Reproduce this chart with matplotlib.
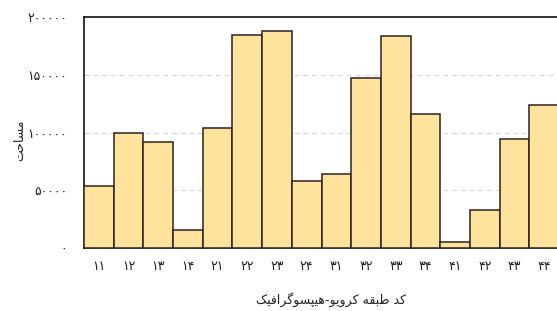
import matplotlib
matplotlib.use("Agg")
import matplotlib.pyplot as plt

categories = ["۱۱", "۱۲", "۱۳", "۱۴", "۲۱", "۲۲", "۲۳", "۲۴",
              "۳۱", "۳۲", "۳۳", "۳۴", "۴۱", "۴۲", "۴۳", "۴۴"]
areas = [54000, 99500, 92000, 15500, 103800, 184000, 187800, 58000,
         63800, 146800, 183700, 115700, 5000, 32600, 94400, 123800]
ytick_values = [0, 50000, 100000, 150000, 200000]
ytick_labels = ["۰", "۵۰۰۰۰", "۱۰۰۰۰۰", "۱۵۰۰۰۰", "۲۰۰۰۰۰"]
xlabel_text = "کد طبقه کرویو-هیپسوگرافیک"
ylabel_text = "مساحت"

# minimal Arabic/Persian shaping (presentation forms) + RTL ordering
FORMS = {
    "ک": ("\uFB8E", "\uFB8F", "\uFB90", "\uFB91"),
    "گ": ("\uFB92", "\uFB93", "\uFB94", "\uFB95"),
    "پ": ("\uFB56", "\uFB57", "\uFB58", "\uFB59"),
    "ی": ("\uFBFC", "\uFBFD", "\uFBFE", "\uFBFF"),
    "ط": ("\uFEC1", "\uFEC2", "\uFEC3", "\uFEC4"),
    "ب": ("\uFE8F", "\uFE90", "\uFE91", "\uFE92"),
    "ق": ("\uFED5", "\uFED6", "\uFED7", "\uFED8"),
    "ه": ("\uFEE9", "\uFEEA", "\uFEEB", "\uFEEC"),
    "س": ("\uFEB1", "\uFEB2", "\uFEB3", "\uFEB4"),
    "ف": ("\uFED1", "\uFED2", "\uFED3", "\uFED4"),
    "م": ("\uFEE1", "\uFEE2", "\uFEE3", "\uFEE4"),
    "ح": ("\uFEA1", "\uFEA2", "\uFEA3", "\uFEA4"),
    "ت": ("\uFE95", "\uFE96", "\uFE97", "\uFE98"),
    "د": ("\uFEA9", "\uFEAA", None, None),
    "ر": ("\uFEAD", "\uFEAE", None, None),
    "و": ("\uFEED", "\uFEEE", None, None),
    "ا": ("\uFE8D", "\uFE8E", None, None),
}


def shape(text):
    out = []
    n = len(text)
    for i, ch in enumerate(text):
        if ch not in FORMS:
            out.append(ch)
            continue
        f = FORMS[ch]
        prev = text[i - 1] if i > 0 else None
        nxt = text[i + 1] if i + 1 < n else None
        jp = prev in FORMS and FORMS[prev][2] is not None
        jn = f[2] is not None and nxt in FORMS
        if jp and jn:
            out.append(f[3])
        elif jp:
            out.append(f[1])
        elif jn:
            out.append(f[2])
        else:
            out.append(f[0])
    return "".join(out)[::-1]


plt.rcParams["font.family"] = ["DejaVu Sans"]

fig = plt.figure(figsize=(5.57, 3.11), dpi=100)
ax = fig.add_axes([84 / 557, 63 / 311, 475 / 557, 231 / 311])

x = list(range(len(categories)))
ax.bar(x, areas, width=1.0, color="#FDE39C", edgecolor="#2e2020",
       linewidth=1.1, zorder=3)

ax.set_xlim(-0.5, len(categories) - 0.5)
ax.set_ylim(0, 200000)
ax.set_yticks(ytick_values)
ax.set_yticklabels(ytick_labels)
ax.set_xticks(x)
ax.set_xticklabels(categories)

for v in ytick_values[1:-1]:
    ax.axhline(v, color="#dadada", linestyle=(0, (4, 3)), linewidth=0.9, zorder=1)

ax.tick_params(axis="both", length=0, labelsize=9, colors="#222222")
ax.tick_params(axis="y", pad=12)
ax.tick_params(axis="x", pad=9)

for side in ["top", "left", "bottom"]:
    ax.spines[side].set_color("#111111")
    ax.spines[side].set_linewidth(1.2)
ax.spines["right"].set_visible(False)

ax.set_xlabel(shape(xlabel_text), fontsize=9, color="#222222")
ax.xaxis.set_label_coords((331 - 84) / 475, -44 / 231)
ax.set_ylabel(shape(ylabel_text), fontsize=9, color="#222222")
ax.yaxis.set_label_coords(-58 / 475, (248 - 140) / 231)

fig.savefig("out.png", dpi=100)
